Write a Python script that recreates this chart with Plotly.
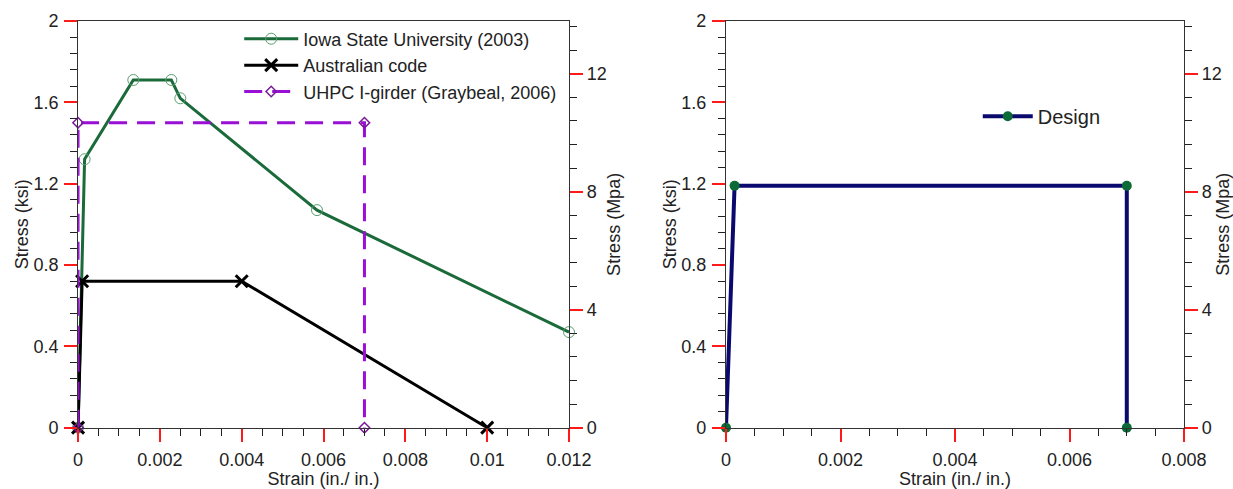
import plotly.graph_objects as go

# ---- data (left panel) ----
iowa_strain = [0.0, 0.00016, 0.00135, 0.00228, 0.0025, 0.00584, 0.012]
iowa_stress = [0.0, 1.32, 1.71, 1.71, 1.62, 1.07, 0.47]

aus_strain = [0.0, 0.0001, 0.004, 0.01]
aus_stress = [0.0, 0.72, 0.72, 0.0]

uhpc_strain = [0.0, 0.0, 0.007, 0.007]
uhpc_stress = [0.0, 1.5, 1.5, 0.0]

# ---- data (right panel) ----
design_strain = [0.0, 0.00015, 0.007, 0.007]
design_stress = [0.0, 1.19, 1.19, 0.0]

KSI_TO_MPA = 6.895
ksi_range = [0, 2]
x_left_range = [0, 0.012]
x_right_range = [0, 0.008]

FONT = "Liberation Sans, Arial, sans-serif"
TXT = "#222222"

fig = go.Figure()

fig.add_trace(go.Scatter(
    x=iowa_strain, y=iowa_stress, mode="lines+markers", cliponaxis=False,
    name="Iowa State University (2003)", legendgroup="a", legend="legend",
    line=dict(color="#1a6a3a", width=3),
    marker=dict(symbol="circle-open", size=11, color="#5a9e70", line=dict(width=1)),
    xaxis="x", yaxis="y"))
fig.add_trace(go.Scatter(
    x=aus_strain, y=aus_stress, mode="lines+markers", cliponaxis=False,
    name="Australian code", legendgroup="b", legend="legend",
    line=dict(color="black", width=3),
    marker=dict(symbol="x-thin-open", size=12, color="black", line=dict(width=3, color="black")),
    xaxis="x", yaxis="y"))
fig.add_trace(go.Scatter(
    x=uhpc_strain, y=uhpc_stress, mode="lines+markers", cliponaxis=False,
    name="UHPC I-girder (Graybeal, 2006)", legendgroup="c", legend="legend",
    line=dict(color="#9a0fd6", width=3, dash="18px,10px"),
    marker=dict(symbol="diamond-open", size=8, color="#7a1a9a", line=dict(width=1.5)),
    xaxis="x", yaxis="y"))

fig.add_trace(go.Scatter(
    x=design_strain, y=design_stress, mode="lines+markers", cliponaxis=False,
    name="Design", legend="legend2",
    line=dict(color="#0a0a6e", width=4),
    marker=dict(symbol="circle", size=10, color="#0b6a35"),
    xaxis="x2", yaxis="y3"))

# invisible traces to activate the MPa axes
fig.add_trace(go.Scatter(x=[None], y=[None], xaxis="x", yaxis="y2", showlegend=False, hoverinfo="skip"))
fig.add_trace(go.Scatter(x=[None], y=[None], xaxis="x2", yaxis="y4", showlegend=False, hoverinfo="skip"))

ydom = [0.1254, 0.957]
xdom1 = [0.0633, 0.4615]
xdom2 = [0.5888, 0.9603]

major = dict(ticks="outside", ticklen=13, tickwidth=2, tickcolor="#ff1a1a")
tickfont = dict(family=FONT, size=18, color=TXT)
titlefont = dict(family=FONT, size=18, color=TXT)

def xax(dom, rng, anchor):
    return dict(domain=dom, range=rng, anchor=anchor, dtick=0.002, tick0=0,
                tickformat=".3~f", showline=True, linecolor="#333", linewidth=1,
                mirror=True, showgrid=False, zeroline=False, tickfont=tickfont,
                ticklabelstandoff=3,
                minor=dict(dtick=0.0005, ticks="outside", ticklen=7, tickwidth=1, tickcolor="#222"),
                title=dict(text="Strain (in./ in.)", font=titlefont, standoff=4),
                automargin=False, **major)

def yax_left(anchor):
    return dict(domain=ydom, range=ksi_range, anchor=anchor, dtick=0.4, tick0=0,
                showline=True, linecolor="#333", linewidth=1, showgrid=False, zeroline=False,
                tickfont=tickfont, ticklabelstandoff=2,
                minor=dict(dtick=0.08, ticks="outside", ticklen=7, tickwidth=1, tickcolor="#222"),
                title=dict(text="Stress (ksi)", font=titlefont, standoff=0),
                automargin=False, **major)

def yax_right(anchor, overlay):
    return dict(domain=ydom, range=[ksi_range[0] * KSI_TO_MPA, ksi_range[1] * KSI_TO_MPA],
                anchor=anchor, overlaying=overlay, side="right", dtick=4, tick0=0,
                showline=True, linecolor="#333", linewidth=1, showgrid=False, zeroline=False,
                tickfont=tickfont,
                minor=dict(dtick=0.8, ticks="outside", ticklen=7, tickwidth=1, tickcolor="#222"),
                title=dict(text="Stress (Mpa)", font=titlefont, standoff=1),
                automargin=False, **major)

fig.update_layout(
    width=1233, height=489,
    margin=dict(l=0, r=0, t=0, b=0),
    paper_bgcolor="white", plot_bgcolor="white",
    font=dict(family=FONT, size=18, color=TXT),
    xaxis=xax(xdom1, x_left_range, "y"),
    yaxis=yax_left("x"),
    yaxis2=yax_right("x", "y"),
    xaxis2=xax(xdom2, x_right_range, "y3"),
    yaxis3=yax_left("x2"),
    yaxis4=yax_right("x2", "y3"),
    legend=dict(x=0.194, y=0.958, xanchor="left", yanchor="top", bgcolor="rgba(255,255,255,0)",
                font=dict(family=FONT, size=18, color=TXT), itemwidth=54, tracegroupgap=6,
                traceorder="normal"),
    legend2=dict(x=0.793, y=0.802, xanchor="left", yanchor="top", bgcolor="rgba(255,255,255,0)",
                 font=dict(family=FONT, size=20, color=TXT), itemwidth=50),
    showlegend=True,
)

fig.write_html("out.html")
